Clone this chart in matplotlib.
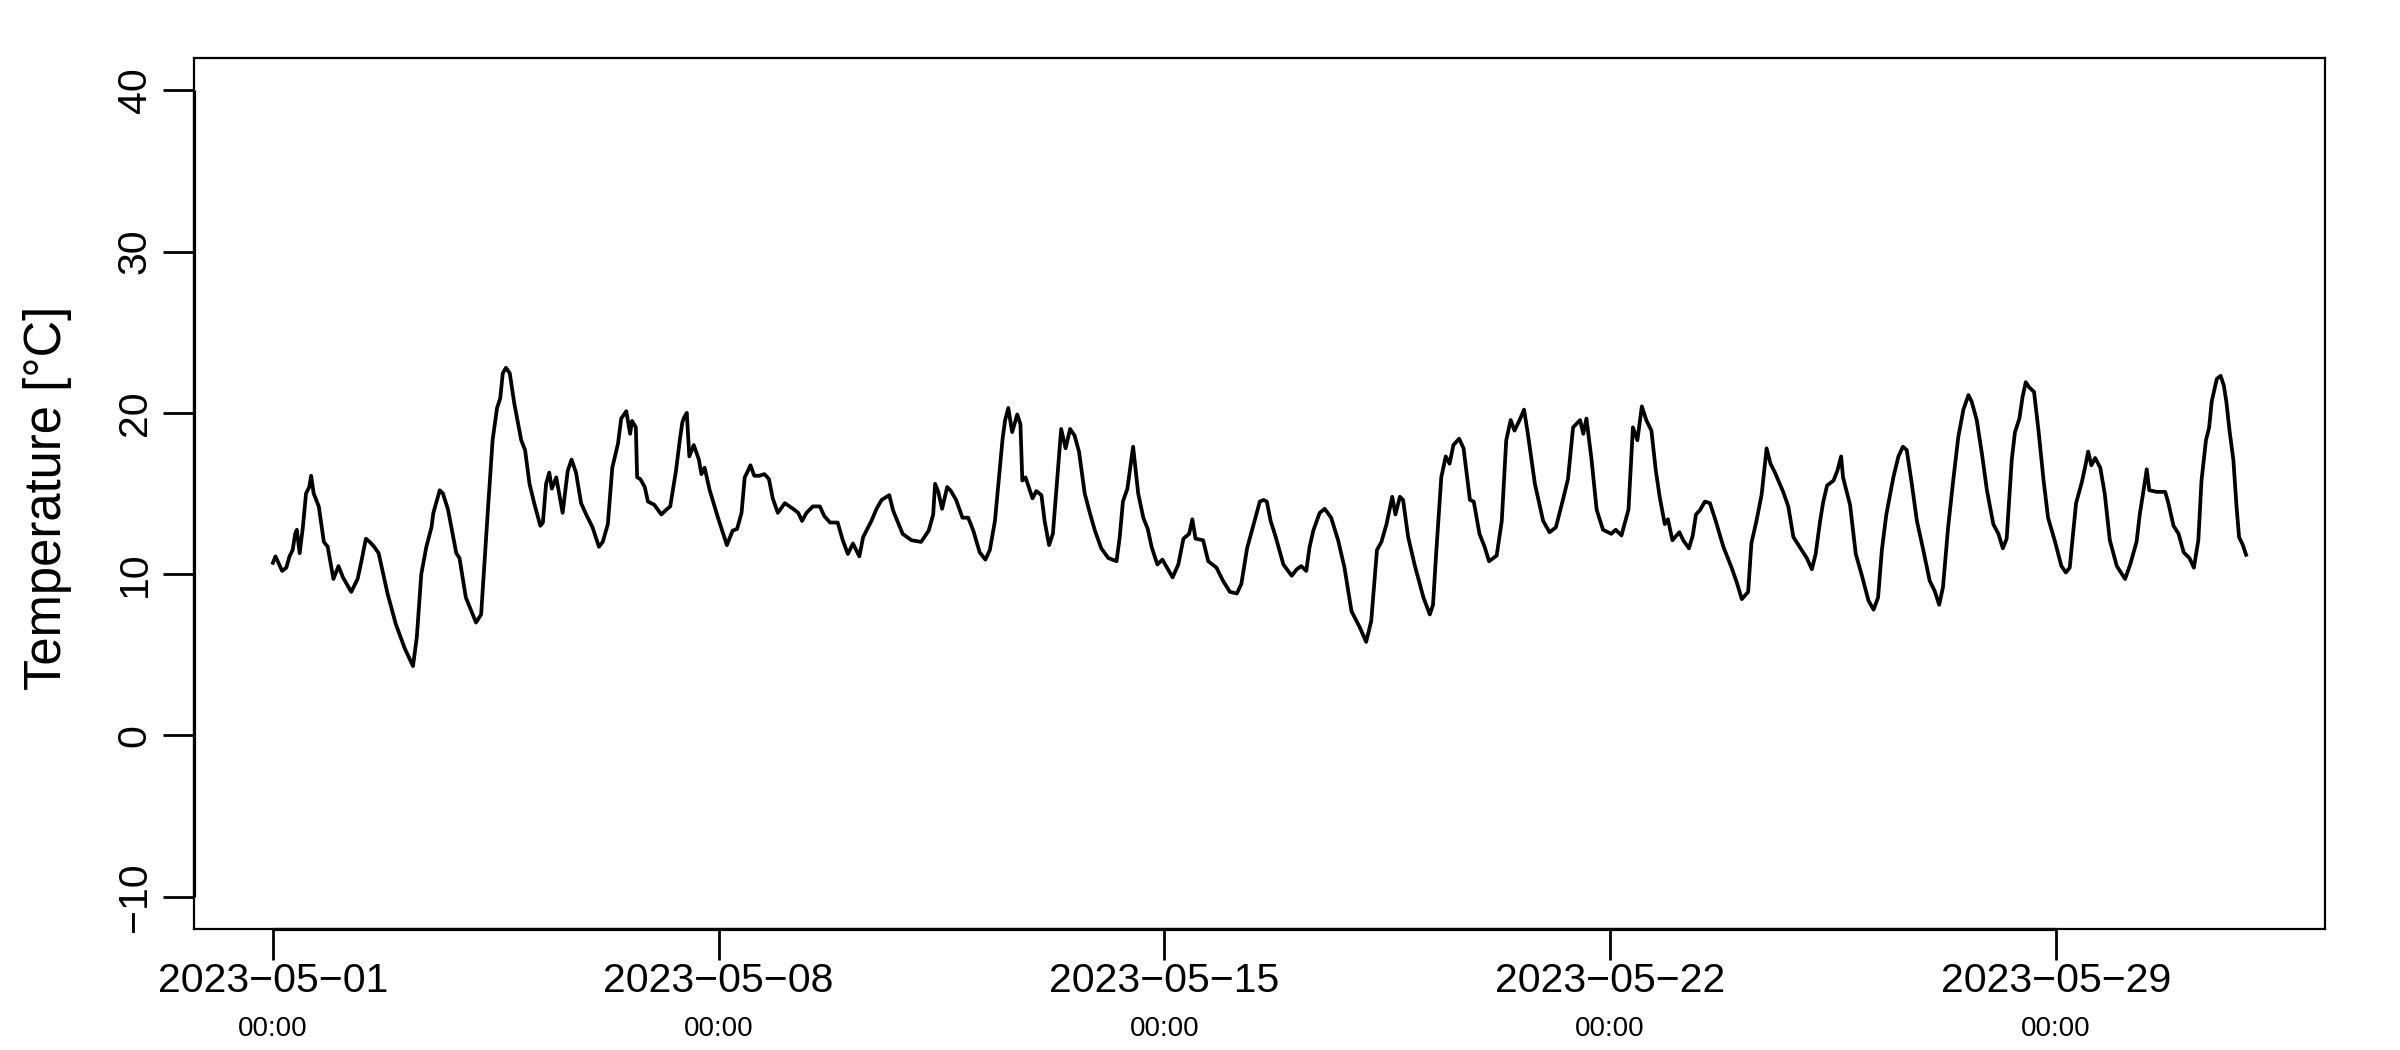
import matplotlib
matplotlib.use("Agg")
import matplotlib.pyplot as plt
import pandas as pd

# air temperature, May 2023 (days since 2023-05-01 00:00, degrees C)
start = "2023-05-01"
days = [
    0.00, 0.04, 0.145, 0.21, 0.26, 0.31, 0.35, 0.375, 0.42, 0.47, 0.52, 0.57, 0.60, 0.64, 0.72, 0.80,
    0.86, 0.95, 1.03, 1.10, 1.23, 1.33, 1.39, 1.46, 1.52, 1.59, 1.66, 1.80, 1.93, 2.07, 2.20, 2.26,
    2.33, 2.41, 2.49, 2.52, 2.62, 2.67, 2.75, 2.88, 2.93, 3.03, 3.19, 3.27, 3.38, 3.45, 3.52, 3.57,
    3.61, 3.66, 3.72, 3.79, 3.90, 3.96, 4.03, 4.11, 4.20, 4.24, 4.29, 4.34, 4.38, 4.45, 4.55, 4.63,
    4.69, 4.76, 4.84, 4.92, 5.02, 5.12, 5.18, 5.26, 5.33, 5.42, 5.47, 5.55, 5.61, 5.64, 5.70, 5.72,
    5.77, 5.84, 5.89, 5.99, 6.10, 6.18, 6.24, 6.33, 6.39, 6.43, 6.45, 6.50, 6.54, 6.61, 6.69, 6.73,
    6.78, 6.86, 6.99, 7.13, 7.22, 7.29, 7.36, 7.41, 7.46, 7.50, 7.56, 7.64, 7.72, 7.79, 7.85, 7.93,
    8.04, 8.17, 8.25, 8.31, 8.38, 8.48, 8.59, 8.66, 8.75, 8.87, 8.95, 9.03, 9.11, 9.21, 9.27, 9.40,
    9.48, 9.56, 9.68, 9.74, 9.89, 10.03, 10.18, 10.30, 10.37, 10.40, 10.45, 10.51, 10.59, 10.65, 10.73, 10.83,
    10.92, 11.00, 11.10, 11.19, 11.26, 11.34, 11.46, 11.50, 11.55, 11.61, 11.69, 11.74,
    11.77, 11.82, 11.93, 11.99, 12.07, 12.12, 12.19, 12.25, 12.30, 12.38, 12.45, 12.52, 12.59, 12.66, 12.75, 12.83,
    12.91, 13.01, 13.12, 13.25, 13.30, 13.35, 13.42, 13.51, 13.59, 13.67, 13.74, 13.80, 13.89, 13.97, 14.13, 14.22,
    14.30, 14.39, 14.44, 14.49, 14.61, 14.69, 14.82, 14.92, 15.03, 15.14, 15.21, 15.30, 15.39, 15.50, 15.56, 15.61,
    15.67, 15.75, 15.87, 16.00, 16.08, 16.15, 16.23, 16.28, 16.34, 16.44, 16.52, 16.62, 16.73, 16.83, 16.94, 17.07,
    17.17, 17.25, 17.34, 17.41, 17.49, 17.58, 17.63,
    17.70, 17.75, 17.83, 17.93, 18.07, 18.17, 18.22, 18.27, 18.35, 18.42, 18.48, 18.54, 18.63, 18.70, 18.80, 18.86,
    18.95, 19.03, 19.10, 19.22, 19.30, 19.37, 19.44, 19.50, 19.58, 19.65, 19.71, 19.82, 19.95, 20.05, 20.15, 20.26,
    20.34, 20.42, 20.53, 20.58, 20.63, 20.71, 20.79, 20.89, 21.02, 21.09, 21.18, 21.29, 21.36, 21.43, 21.50, 21.57,
    21.65, 21.72, 21.78, 21.86, 21.91, 21.98, 22.09, 22.15, 22.24, 22.30, 22.35, 22.41, 22.49, 22.57, 22.66, 22.78,
    22.91, 22.99, 23.07, 23.17, 23.22, 23.30, 23.38, 23.46, 23.52, 23.59,
    23.72, 23.80, 23.88, 24.01, 24.09, 24.17, 24.23, 24.30, 24.35, 24.41, 24.51, 24.57, 24.63, 24.66, 24.77, 24.86,
    24.95, 25.06, 25.14, 25.21, 25.27, 25.34, 25.45, 25.53, 25.60, 25.66, 25.74, 25.82, 25.92, 26.02, 26.10, 26.17,
    26.23, 26.31, 26.39, 26.47, 26.55, 26.63, 26.68, 26.76, 26.84, 26.92, 27.02, 27.10, 27.17, 27.23, 27.31, 27.36,
    27.43, 27.48, 27.53, 27.58, 27.66, 27.73, 27.81, 27.88, 27.99, 28.09, 28.16, 28.22, 28.32, 28.41, 28.46, 28.51,
    28.56, 28.62, 28.70,
    28.77, 28.85, 28.96, 29.09, 29.17, 29.27, 29.32, 29.38, 29.43, 29.47, 29.59, 29.72, 29.77, 29.85, 29.93, 30.01,
    30.10, 30.17, 30.24, 30.29, 30.36, 30.41, 30.45, 30.53, 30.59, 30.64, 30.68, 30.73, 30.79, 30.84, 30.88, 30.94,
    30.99,
]
temp_c = [
    10.7, 11.1, 10.2, 10.4, 11.1, 11.5, 12.5, 12.75, 11.3, 12.9, 15.0, 15.4, 16.1, 15.0, 14.2, 12.0,
    11.7, 9.7, 10.5, 9.8, 8.9, 9.7, 10.8, 12.2, 12.0, 11.7, 11.3, 8.8, 6.9, 5.4, 4.3, 6.1,
    10.0, 11.7, 12.9, 13.8, 15.2, 15.0, 14.0, 11.3, 11.0, 8.55, 7.0, 7.5, 14.2, 18.3, 20.3, 20.9,
    22.45, 22.8, 22.45, 20.6, 18.3, 17.7, 15.6, 14.3, 13.0, 13.2, 15.6, 16.3, 15.3, 16.0, 13.8, 16.4,
    17.1, 16.3, 14.4, 13.7, 12.9, 11.7, 12.0, 13.1, 16.6, 18.1, 19.65, 20.1, 18.7, 19.5, 19.1, 16.0,
    15.9, 15.4, 14.5, 14.3, 13.7, 14.0, 14.2, 16.4, 18.3, 19.4, 19.65, 20.0, 17.3, 18.0, 17.1, 16.2,
    16.6, 15.2, 13.5, 11.8, 12.7, 12.8, 13.8, 16.0, 16.4, 16.75, 16.1, 16.1, 16.2, 15.9, 14.7, 13.8,
    14.4, 14.05, 13.8, 13.3, 13.8, 14.2, 14.2, 13.6, 13.2, 13.2, 12.1, 11.25, 11.9, 11.1, 12.3, 13.3,
    14.05, 14.6, 14.9, 13.95, 12.5, 12.1, 12.0, 12.7, 13.7, 15.6, 15.1, 14.05, 15.4, 15.15, 14.6, 13.5,
    13.5, 12.7, 11.35, 10.9, 11.5, 13.3, 18.4, 19.55, 20.3, 18.8, 19.9, 19.3,
    15.8, 16.0, 14.7, 15.15, 14.9, 13.3, 11.8, 12.5, 15.0, 19.0, 17.8, 19.0, 18.6, 17.6, 15.0, 13.8,
    12.7, 11.6, 11.0, 10.8, 12.3, 14.5, 15.3, 17.9, 15.0, 13.5, 12.8, 11.7, 10.6, 10.9, 9.8, 10.6,
    12.2, 12.5, 13.4, 12.2, 12.1, 10.8, 10.4, 9.6, 8.9, 8.8, 9.4, 11.6, 12.9, 14.5, 14.6, 14.5,
    13.3, 12.3, 10.6, 9.9, 10.3, 10.5, 10.2, 11.65, 12.7, 13.8, 14.05, 13.5, 12.1, 10.4, 7.7, 6.7,
    5.8, 7.1, 11.5, 12.0, 13.1, 14.8, 13.7,
    14.8, 14.6, 12.3, 10.6, 8.55, 7.5, 8.1, 11.3, 16.0, 17.3, 16.85, 18.0, 18.4, 17.8, 14.6, 14.5,
    12.5, 11.7, 10.8, 11.15, 13.3, 18.3, 19.55, 18.9, 19.55, 20.2, 18.7, 15.6, 13.3, 12.6, 12.9, 14.6,
    15.9, 19.1, 19.55, 18.7, 19.65, 17.1, 14.0, 12.75, 12.5, 12.75, 12.4, 14.0, 19.1, 18.3, 20.4, 19.55,
    18.9, 16.4, 14.8, 13.1, 13.4, 12.1, 12.6, 12.1, 11.6, 12.4, 13.7, 13.95, 14.5, 14.4, 13.3, 11.7,
    10.4, 9.5, 8.45, 8.9, 11.9, 13.3, 14.9, 17.8, 16.85, 16.3,
    15.1, 14.2, 12.3, 11.5, 11.0, 10.3, 11.25, 13.3, 14.5, 15.5, 15.8, 16.4, 17.3, 16.0, 14.3, 11.25,
    10.0, 8.35, 7.8, 8.55, 11.5, 13.7, 16.0, 17.3, 17.9, 17.7, 15.6, 13.3, 11.5, 9.6, 8.95, 8.1,
    9.2, 12.9, 15.8, 18.5, 20.2, 21.1, 20.7, 19.55, 17.5, 15.2, 13.1, 12.5, 11.6, 12.2, 17.1, 18.8,
    19.65, 21.0, 21.9, 21.6, 21.3, 18.9, 15.8, 13.5, 12.0, 10.5, 10.1, 10.4, 14.4, 15.7, 16.6, 17.6,
    16.75, 17.2, 16.6,
    15.0, 12.1, 10.5, 9.7, 10.6, 12.0, 13.7, 15.2, 16.5, 15.2, 15.1, 15.1, 14.4, 13.0, 12.5, 11.35,
    11.0, 10.4, 12.1, 15.8, 18.3, 19.1, 20.7, 22.1, 22.3, 21.7, 20.7, 18.9, 17.1, 14.2, 12.3, 11.8,
    11.2,
]

tick_dates = ["2023-05-01", "2023-05-08", "2023-05-15", "2023-05-22", "2023-05-29"]
tick_times = ["00:00", "00:00", "00:00", "00:00", "00:00"]
y_ticks = [-10, 0, 10, 20, 30, 40]
y_range = (-10, 40)

plt.rcParams['font.family'] = ['Liberation Sans', 'DejaVu Sans']

times = pd.Timestamp(start) + pd.to_timedelta(days, unit="D")
ticks = pd.to_datetime(tick_dates)

fig = plt.figure(figsize=(24, 10.5), dpi=100)
ax = fig.add_axes([194 / 2400, 1 - 929 / 1050, (2325 - 194) / 2400, (929 - 58) / 1050])

ax.plot(times, temp_c, color="black", lw=2.7)

# R style 4% padding on both axes
span = times.max() - times.min()
ax.set_xlim(times.min() - 0.04 * span, times.max() + 0.04 * span)
pad_y = 0.04 * (y_range[1] - y_range[0])
ax.set_ylim(y_range[0] - pad_y, y_range[1] + pad_y)

ax.set_xticks(ticks)
ax.set_xticklabels([d.replace("-", "\u2212") for d in tick_dates])
ax.set_yticks(y_ticks)
ax.set_yticklabels([str(v).replace("-", "\u2212") for v in y_ticks], rotation=90, va="center")
ax.tick_params(axis="both", direction="out", length=22, width=2, labelsize=29.5)
ax.tick_params(axis="x", pad=2)
ax.tick_params(axis="y", pad=7)

for tk, lab in zip(ticks, tick_times):
    ax.annotate(lab, xy=(tk, 0), xycoords=("data", "axes fraction"),
                xytext=(0, -63), textcoords="offset points",
                ha="center", va="top", fontsize=20)

for s in ax.spines.values():
    s.set_linewidth(1.6)

# axis lines spanning the tick range, drawn over the box
ax.plot([ticks[0], ticks[-1]], [0, 0], transform=ax.get_xaxis_transform(),
        color="black", lw=2.3, clip_on=False, solid_capstyle="butt")
ax.plot([0, 0], [y_ticks[0], y_ticks[-1]], transform=ax.get_yaxis_transform(),
        color="black", lw=2.3, clip_on=False, solid_capstyle="butt")

fig.text(48 / 2400, 1 - 498 / 1050, "Temperature [°C]", rotation=90,
         ha="center", va="center", fontsize=36.5)

fig.savefig("out.png", dpi=100)
